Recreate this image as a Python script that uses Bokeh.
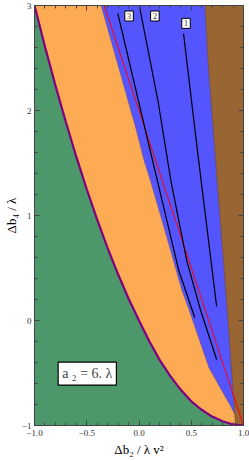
from bokeh.plotting import figure
from bokeh.models import Label, FixedTicker, LinearAxis, CustomLabelingPolicy
from bokeh.embed import file_html
from bokeh.resources import INLINE

# ---- axis ticks ----
x_ticks = [-1.0, -0.5, 0.0, 0.5, 1.0]
x_tick_labels = ["−1.0", "−0.5", "0.0", "0.5", "1.0"]
x_minor = [-0.9, -0.8, -0.7, -0.6, -0.4, -0.3, -0.2, -0.1, 0.1, 0.2, 0.3, 0.4, 0.6, 0.7, 0.8, 0.9]
y_ticks = [-1, 0, 1, 2, 3]
y_tick_labels = ["−1", "0", "1", "2", "3"]
y_minor = [-0.8, -0.6, -0.4, -0.2, 0.2, 0.4, 0.6, 0.8, 1.2, 1.4, 1.6, 1.8, 2.2, 2.4, 2.6, 2.8]

# ---- region boundaries ----
# green / orange boundary (purple curve)
g_x = [-1.0, -0.9, -0.8, -0.7, -0.6, -0.5, -0.4, -0.3, -0.2, -0.1, 0.0,
       0.1, 0.2, 0.3, 0.4, 0.5, 0.6, 0.7, 0.8, 0.9, 1.0]
g_y = [3.0, 2.61, 2.24, 1.89, 1.56, 1.25, 0.96, 0.69, 0.44, 0.21, 0.0,
       -0.2, -0.38, -0.53, -0.66, -0.77, -0.85, -0.915, -0.96, -0.99, -1.0]
# orange / blue boundary
ob_x = [-0.362, -0.22, -0.03, 0.05, 0.11, 0.25, 0.41, 0.48, 0.67, 0.80, 0.88, 0.915]
ob_y = [3.0, 2.5, 1.83, 1.52, 1.33, 0.85, 0.29, 0.10, -0.45, -0.68, -0.82, -0.89]
# blue / brown boundary
br_x = [0.632, 0.66, 0.733, 0.83, 0.845, 0.924]
br_y = [3.0, 2.476, 1.524, 0.286, 0.095, -1.0]
# red line
red_x = [-0.333, 1.0]
red_y = [3.0, -1.0]
# black contours
c3_x = [-0.203, 0.107, 0.381, 0.533]
c3_y = [2.924, 1.619, 0.476, 0.029]
c2_x = [0.003, 0.181, 0.305, 0.457, 0.59, 0.743]
c2_y = [3.0, 2.095, 1.333, 0.571, 0.095, -0.371]
c1_x = [0.426, 0.559, 0.743]
c1_y = [2.733, 1.62, 0.133]
contour_labels = ["3", "2", "1"]
contour_label_x = [-0.095, 0.152, 0.45]
contour_label_y = [2.90, 2.90, 2.83]

GREEN = "#4c986a"
ORANGE = "#fdaa55"
BLUE = "#5555fd"
BROWN = "#986533"
SERIF = "Liberation Serif"
AX = "#444444"

p = figure(width=249, height=461, x_range=(-1, 1), y_range=(-1, 3),
           output_backend="svg", toolbar_location=None,
           min_border_left=33, min_border_right=6, min_border_top=5, min_border_bottom=36,
           x_axis_location=None, y_axis_location=None)
p.styles = {"position": "absolute", "left": "0px", "top": "0px"}
p.grid.visible = False
p.background_fill_color = GREEN
p.border_fill_color = "white"
p.outline_line_color = AX

# regions
p.patch(g_x + [-1.0], g_y + [-1.0], fill_color=GREEN, line_color=None)
p.patch(g_x + [1.0], g_y + [3.0], fill_color=ORANGE, line_color=None)
p.patch(ob_x + [1.0, 1.0], ob_y + [ob_y[-1], 3.0], fill_color=BLUE, line_color=None)
p.line(ob_x, ob_y, line_color="#6a4f8a", line_width=0.8, line_alpha=0.7)
p.patch(br_x + [1.0, 1.0], br_y + [-1.0, 3.0], fill_color=BROWN, line_color=None)
p.line(br_x, br_y, line_color="#6b4a30", line_width=0.8, line_alpha=0.7)

# lines
p.line(red_x, red_y, line_color="#ff0000", line_width=1)
for cx, cy in [(c3_x, c3_y), (c2_x, c2_y), (c1_x, c1_y)]:
    p.line(cx, cy, line_color="black", line_width=1.2)
p.line(g_x, g_y, line_color="#800080", line_width=2.2)

for t, lx, ly in zip(contour_labels, contour_label_x, contour_label_y):
    p.add_layout(Label(x=lx, y=ly, text=t, text_font=SERIF, text_font_size="9px",
                       text_align="center", text_baseline="middle",
                       background_fill_color="white", border_line_color="black",
                       border_line_width=1, padding=2))

p.add_layout(Label(x=-0.495, y=-0.505, text="a ₂ = 6. λ", text_font=SERIF,
                   text_font_size="14px", text_align="center", text_baseline="middle",
                   background_fill_color="white", border_line_color="black",
                   border_line_width=1.2, padding=4))

def mk_axis(ticks, minor, labels, show, label="", std=(4, 4)):
    ax = LinearAxis(ticker=FixedTicker(ticks=ticks, minor_ticks=minor))
    ax.major_tick_in = 5
    ax.major_tick_out = 0
    ax.minor_tick_in = 3
    ax.minor_tick_out = 0
    ax.axis_line_color = AX
    ax.major_tick_line_color = AX
    ax.minor_tick_line_color = AX
    if show:
        ax.major_label_overrides = dict(zip(ticks, labels))
        ax.major_label_text_font = SERIF
        ax.major_label_text_font_size = "9px"
        ax.major_label_text_color = "#333333"
        ax.major_label_standoff = std[0]
        ax.axis_label = label
        ax.axis_label_text_font = SERIF
        ax.axis_label_text_font_style = "normal"
        ax.axis_label_text_font_size = "13px"
        ax.axis_label_text_color = "black"
        ax.axis_label_standoff = std[1]
    else:
        ax.major_label_policy = CustomLabelingPolicy(
            code="for (const i of indices) { indices.unset(i) } return indices")
        ax.major_label_text_font_size = "1px"
        ax.major_label_standoff = 0
    return ax

p.add_layout(mk_axis(x_ticks, x_minor, x_tick_labels, True, "Δb₂ / λ v²", (4, 3)), "below")
p.add_layout(mk_axis(y_ticks, y_minor, y_tick_labels, True, "Δb₄ / λ", (3, 0)), "left")
p.add_layout(mk_axis(x_ticks, x_minor, x_tick_labels, False), "above")
p.add_layout(mk_axis(y_ticks, y_minor, y_tick_labels, False), "right")

open("out.html", "w").write(file_html(p, INLINE))
